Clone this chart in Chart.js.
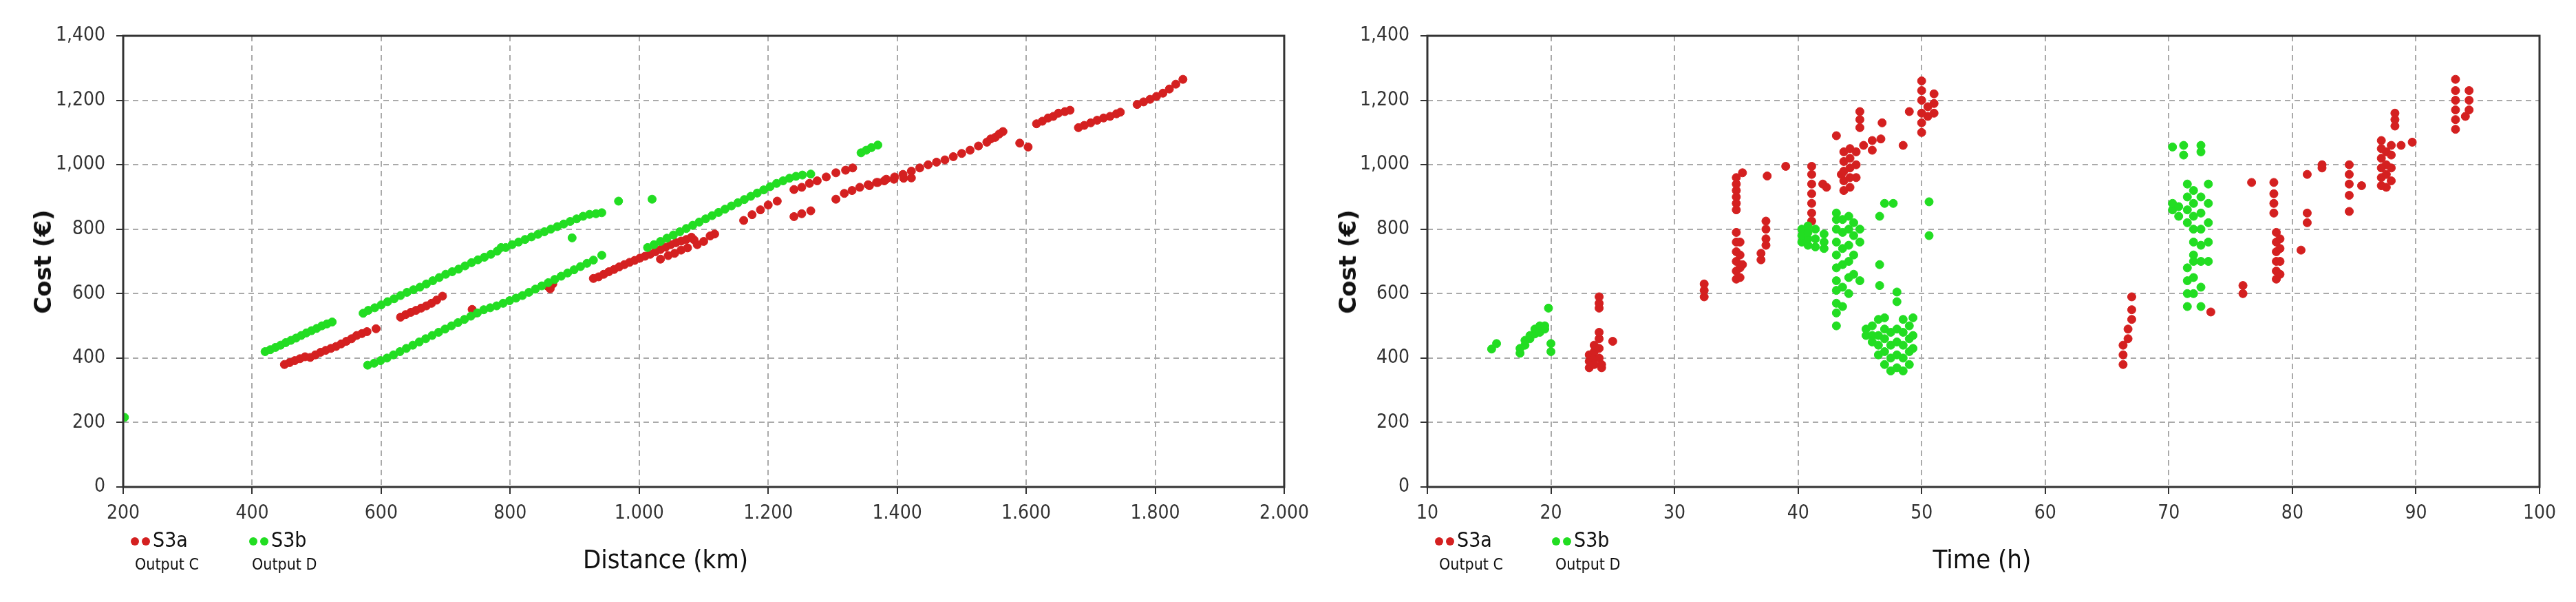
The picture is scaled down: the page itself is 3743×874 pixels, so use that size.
<!DOCTYPE html>
<html><head><meta charset="utf-8">
<script src="https://cdn.jsdelivr.net/npm/chart.js@4"></script>
<style>
body{margin:0;width:3743px;height:874px;background:#fff;position:relative;overflow:hidden;font-family:"DejaVu Sans Condensed","DejaVu Sans",sans-serif}
canvas{position:absolute;top:0}
.t{position:absolute;color:#111;white-space:nowrap}
.yt{font-family:Verdana,"DejaVu Sans",sans-serif;font-weight:bold;font-size:34px;transform:translate(-50%,-50%) rotate(-90deg)}
.xt{font-size:38px;transform:translateX(-50%)}
.lg{font-size:30px}
.ls{font-size:23px}
.dot{display:inline-block;width:12px;height:12px;border-radius:50%;margin-right:4px;vertical-align:middle}
</style></head><body>
<canvas id="c1"></canvas><canvas id="c2"></canvas>
<div class="t yt" style="left:62px;top:380px">Cost (€)</div>
<div class="t yt" style="left:1958px;top:380px">Cost (€)</div>
<div class="t xt" style="left:967px;top:790px">Distance (km)</div>
<div class="t xt" style="left:2880px;top:790px">Time (h)</div>
<div class="t lg" style="left:190px;top:766px"><span class="dot" style="background:#d42020"></span><span class="dot" style="background:#d42020"></span>S3a</div>
<div class="t ls" style="left:196px;top:806px">Output C</div>
<div class="t lg" style="left:362px;top:766px"><span class="dot" style="background:#22dd22"></span><span class="dot" style="background:#22dd22"></span>S3b</div>
<div class="t ls" style="left:366px;top:806px">Output D</div>
<div class="t lg" style="left:2085px;top:766px"><span class="dot" style="background:#d42020"></span><span class="dot" style="background:#d42020"></span>S3a</div>
<div class="t ls" style="left:2091px;top:806px">Output C</div>
<div class="t lg" style="left:2255px;top:766px"><span class="dot" style="background:#22dd22"></span><span class="dot" style="background:#22dd22"></span>S3b</div>
<div class="t ls" style="left:2260px;top:806px">Output D</div>
<script>
const distRed=[[450,380],[458,386],[466,392],[474,398],[482,404],[490,402],[498,410],[506,418],[514,424],[522,430],[530,436],[538,444],[546,452],[554,460],[562,470],[570,476],[578,482],[592,491],
[630,527],[638,535],[646,542],[654,548],[662,555],[670,562],[678,570],[686,580],[695,592],[741,551],[745,540],[858,623],[862,615],[866,630],
[929,647],[937,652],[945,660],[953,668],[961,675],[969,683],[977,690],[985,697],[993,703],[1001,710],[1009,716],[1017,722],[1025,730],[1033,737],[1041,744],[1049,752],[1057,758],[1065,763],[1073,768],[1081,775],[1085,767],
[1033,707],[1045,718],[1055,725],[1065,735],[1075,742],[1090,752],[1100,762],[1110,779],[1117,785],
[1162,827],[1175,845],[1188,860],[1200,875],[1214,887],[1240,839],[1252,848],[1266,857],
[1240,923],[1252,930],[1264,942],[1276,950],[1290,962],[1305,975],[1320,983],[1331,990],
[1305,893],[1318,911],[1330,920],[1342,930],[1355,938],[1368,945],[1380,950],[1395,955],[1410,958],[1422,959],
[1357,935],[1370,945],[1383,955],[1396,962],[1409,970],[1422,980],[1435,990],[1448,1000],[1461,1008],[1474,1015],[1487,1025],[1500,1035],[1513,1045],[1526,1058],[1539,1070],[1552,1085],[1564,1103],[1558,1095],[1545,1080],
[1590,1067],[1603,1055],[1616,1127],[1625,1135],[1634,1145],[1642,1150],[1650,1160],[1660,1165],[1668,1169],
[1681,1115],[1690,1122],[1700,1130],[1710,1138],[1720,1145],[1730,1150],[1740,1158],[1746,1163],
[1772,1187],[1782,1195],[1792,1203],[1802,1212],[1812,1222],[1822,1235],[1832,1250],[1843,1265]];
const distGreen=[[202,216],
[420,420],[428,426],[436,433],[444,440],[452,448],[460,455],[468,462],[476,470],[484,478],[492,485],[500,492],[508,500],[516,506],[524,512],
[572,539],[580,548],[590,556],[600,565],[610,575],[620,584],[630,594],[640,604],[650,612],[660,620],[670,630],[680,640],[690,650],[700,660],[710,668],[720,676],[730,686],[740,696],[750,705],[760,713],[770,722],[780,732],[786,743],
[793,743],[803,752],[813,760],[823,768],[833,776],[843,784],[853,792],[863,800],[873,808],[883,816],[893,824],[903,832],[913,840],[923,846],[933,848],[942,851],[896,773],[968,887],[1020,893],
[579,378],[589,384],[599,392],[609,400],[619,410],[629,420],[639,430],[649,440],[659,450],[669,460],[679,470],[689,480],[699,490],[709,500],[719,510],[729,520],[739,530],[749,540],[759,550],[769,556],[779,562],[789,570],[799,578],[809,586],[819,594],[829,604],[839,614],[849,624],[859,634],[869,644],[879,654],[889,664],[899,674],[909,684],[919,694],[929,704],[942,719],
[1013,743],[1023,752],[1033,762],[1043,772],[1053,782],[1063,792],[1073,802],[1083,812],[1093,822],[1103,832],[1113,842],[1123,852],[1133,862],[1143,872],[1153,882],[1163,892],[1173,902],[1183,912],[1193,922],[1203,932],[1213,942],[1223,950],[1233,958],[1243,964],[1253,968],[1266,971],
[1344,1037],[1352,1045],[1360,1053],[1370,1061]];
const timeRed=[[23.1,370],[23.1,390],[23.1,410],[23.5,380],[23.5,400],[23.5,420],[23.5,440],[23.9,400],[23.9,430],[23.9,460],[23.9,480],[23.9,555],[23.9,570],[23.9,590],[24.1,370],[24.1,380],[25,452],
[32.4,590],[32.4,610],[32.4,630],[35,860],[35,880],[35,900],[35,920],[35,940],[35,960],[35,645],[35,670],[35,700],[35,730],[35,760],[35,790],[35.3,650],[35.3,680],[35.3,720],[35.3,760],[35.5,975],[35.5,690],
[37,705],[37,725],[37.4,750],[37.4,770],[37.4,800],[37.4,825],[37.5,965],[39,995],
[41.1,825],[41.1,850],[41.1,880],[41.1,910],[41.1,940],[41.1,970],[41.1,995],[42,940],[42.3,930],
[43.1,1090],[43.5,970],[43.7,920],[43.7,950],[43.7,980],[43.7,1010],[43.7,1040],[44.2,930],[44.2,960],[44.2,990],[44.2,1020],[44.2,1050],[44.7,960],[44.7,1000],[44.7,1040],[45,1115],[45,1140],[45,1165],[45.3,1060],[46,1045],[46,1075],[46.7,1080],[46.8,1130],[48.5,1060],[49,1165],
[50,1100],[50,1130],[50,1160],[50,1200],[50,1230],[50,1260],[50.5,1150],[50.5,1180],[51,1160],[51,1190],[51,1220],
[66.3,380],[66.3,410],[66.3,440],[66.7,460],[66.7,490],[67,520],[67,550],[67,590],[73.4,543],
[76,600],[76,625],[76.7,945],[78.5,850],[78.5,880],[78.5,910],[78.5,945],[78.7,645],[78.7,670],[78.7,700],[78.7,730],[78.7,760],[78.7,790],[79,660],[79,700],[79,740],[79,770],[80.7,735],[81.2,820],[81.2,850],[81.2,970],[82.4,990],[82.4,1000],
[84.6,905],[84.6,940],[84.6,970],[84.6,1000],[84.6,855],[85.6,935],[87.2,935],[87.2,960],[87.2,990],[87.2,1020],[87.2,1050],[87.2,1075],[87.6,930],[87.6,970],[87.6,1000],[87.6,1040],[88,950],[88,990],[88,1030],[88,1060],[88.3,1120],[88.3,1140],[88.3,1160],[88.8,1060],[89.7,1070],
[93.2,1110],[93.2,1140],[93.2,1170],[93.2,1200],[93.2,1230],[93.2,1265],[94,1150],[94.3,1170],[94.3,1200],[94.3,1230]];
const timeGreen=[[15.2,428],[15.6,445],[17.5,415],[17.5,430],[17.9,440],[17.9,455],[18.3,460],[18.3,470],[18.7,475],[18.7,490],[19.1,480],[19.1,500],[19.5,490],[19.5,500],[19.8,555],[20,420],[20,445],
[40.3,760],[40.3,780],[40.3,800],[40.8,750],[40.8,770],[40.8,790],[40.8,810],[41.4,745],[41.4,770],[41.4,800],[42.1,740],[42.1,760],[42.1,785],
[43.1,500],[43.1,540],[43.1,570],[43.1,610],[43.1,640],[43.1,680],[43.1,720],[43.1,760],[43.1,800],[43.1,830],[43.1,850],[43.6,560],[43.6,620],[43.6,690],[43.6,740],[43.6,790],[43.6,830],[44.1,600],[44.1,650],[44.1,700],[44.1,750],[44.1,800],[44.1,840],[44.5,660],[44.5,720],[44.5,780],[44.5,820],[45,640],[45,760],[45,800],
[46.6,690],[46.6,840],[46.6,625],[47,880],[47.7,880],
[45.5,470],[45.5,490],[46,450],[46,470],[46,500],[46.5,410],[46.5,440],[46.5,470],[46.5,520],[47,380],[47,420],[47,460],[47,490],[47,525],[47.5,360],[47.5,400],[47.5,440],[47.5,480],[48,370],[48,410],[48,450],[48,490],[48,575],[48,605],[48.5,360],[48.5,400],[48.5,440],[48.5,480],[48.5,520],[49,380],[49,420],[49,460],[49,500],[49.3,430],[49.3,470],[49.3,525],[50.6,885],[50.6,780],
[70.3,1055],[70.3,860],[70.3,880],[71.2,1030],[71.2,1060],[72.6,1040],[72.6,1060],[71.5,820],[71.5,860],[71.5,900],[71.5,940],[71.5,560],[71.5,600],[71.5,640],[71.5,680],[72,720],[72,760],[72,800],[72,840],[72,880],[72,920],[72,600],[72,650],[72,700],[72.6,700],[72.6,750],[72.6,800],[72.6,850],[72.6,900],[72.6,560],[72.6,620],[73.2,700],[73.2,760],[73.2,820],[73.2,880],[73.2,940],[70.8,840],[70.8,870]];
const RED='#d42020', GREEN='#22dd22';
const frame={id:'frame',afterDraw(c){const a=c.chartArea,x=c.ctx;x.save();x.strokeStyle='#333';x.lineWidth=3;x.strokeRect(a.left,a.top,a.right-a.left,a.bottom-a.top);x.restore();}};
function mk(id,left,w,yW,padR,xmin,xmax,xstep,sep,red,green){
  const cv=document.getElementById(id);cv.style.left=left+'px';cv.width=w;cv.height=874;cv.style.width=w+'px';cv.style.height='874px';
  const ds=(d,c)=>({data:d.map(p=>({x:p[0],y:p[1]})),backgroundColor:c,borderColor:c,pointRadius:6,pointHoverRadius:6});
  new Chart(cv,{type:'scatter',data:{datasets:[ds(green,GREEN),ds(red,RED)]},plugins:[frame],
   options:{responsive:false,animation:false,devicePixelRatio:1,layout:{padding:{top:52,right:padR,left:0,bottom:0}},
    plugins:{legend:{display:false},tooltip:{enabled:false}},
    scales:{
     x:{type:'linear',min:xmin,max:xmax,afterFit:s=>{s.height=167},
       ticks:{stepSize:xstep,padding:12,color:'#333',font:{size:28,family:'"DejaVu Sans Condensed","DejaVu Sans"'},maxRotation:0,callback:v=>sep?v.toLocaleString('en-US').replace(',','.'):v},
       grid:{color:'#aaa',lineWidth:2,tickLength:10,tickColor:'#333'},border:{dash:[8,6],display:false}},
     y:{type:'linear',min:0,max:1400,afterFit:s=>{s.width=yW},
       ticks:{stepSize:200,padding:16,color:'#333',font:{size:28,family:'"DejaVu Sans Condensed","DejaVu Sans"'},callback:v=>v.toLocaleString('en-US')},
       grid:{color:'#aaa',lineWidth:2,tickLength:10,tickColor:'#333'},border:{dash:[8,6],display:false}}}}});
}
mk('c1',0,1914,179,45,200,2000,200,true,distRed,distGreen);
mk('c2',1914,1829,160,53,10,100,10,false,timeRed,timeGreen);
</script></body></html>
